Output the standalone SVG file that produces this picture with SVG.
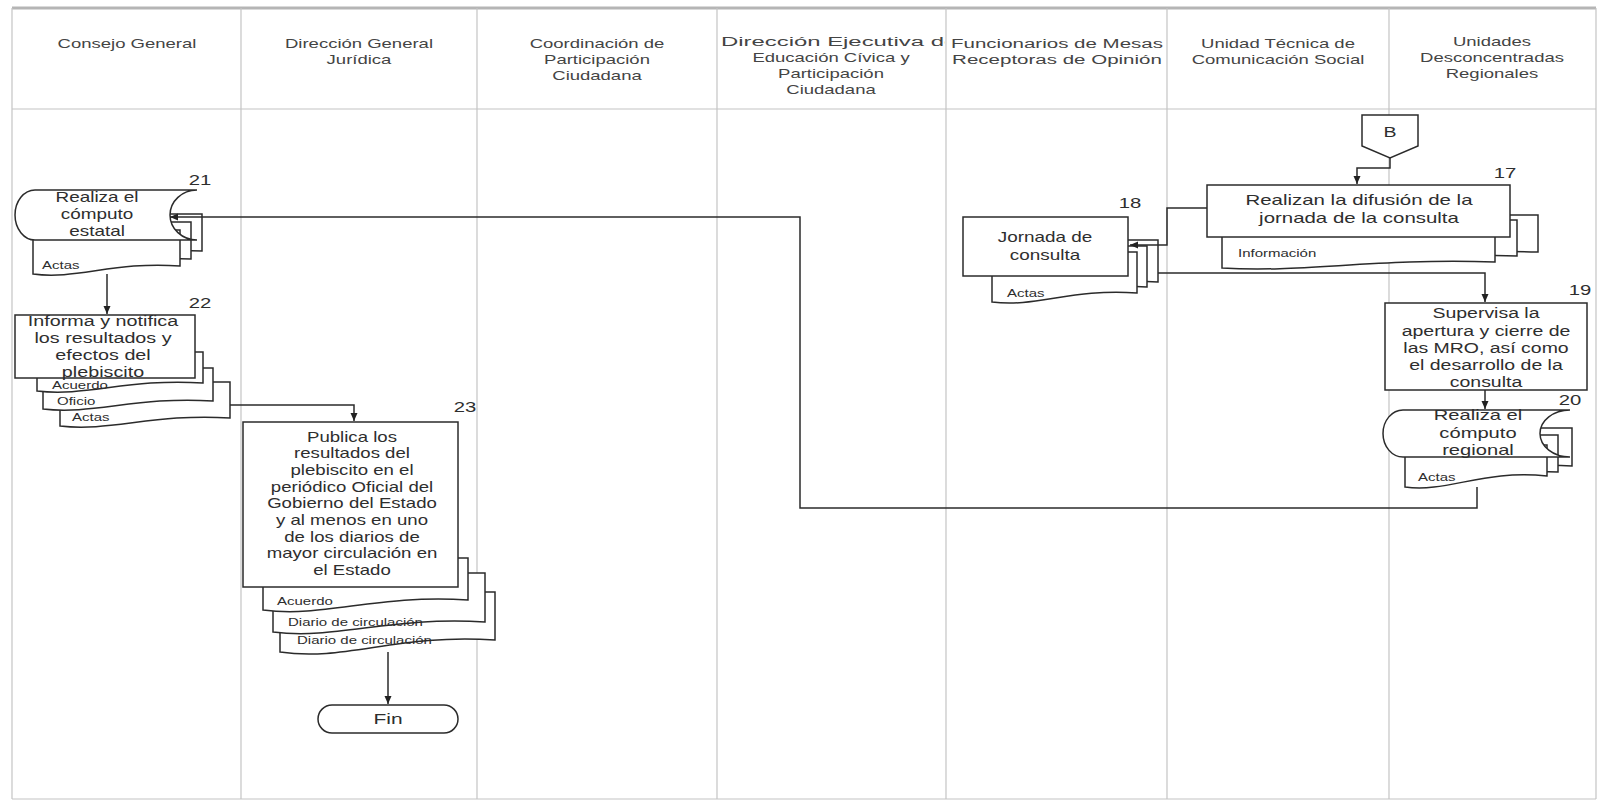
<svg xmlns="http://www.w3.org/2000/svg" width="1598" height="802" viewBox="0 0 1598 802">
<style>
text{font-family:"Liberation Sans",Arial,sans-serif;fill:#2e2e2e;text-anchor:middle}
.h{font-size:13.5px;fill:#444}
.t{font-size:14px}
.n{font-size:14px}
.s{font-size:10px;text-anchor:start}
.lane{stroke:#c4c4c4;stroke-width:1.2;fill:none}
.shp{fill:#fff;stroke:#2b2b2b;stroke-width:1.5}
.cn{fill:none;stroke:#2b2b2b;stroke-width:1.5}
</style>
<defs>
<marker id="ah" markerUnits="userSpaceOnUse" markerWidth="8" markerHeight="8" viewBox="0 0 8 8" refX="8" refY="4" orient="auto"><path d="M0,0.5 L8,4 L0,7.5 Z" fill="#222"/></marker>
<clipPath id="c4"><rect x="718" y="9" width="227" height="99"/></clipPath>
<clipPath id="c5"><rect x="947" y="9" width="219" height="99"/></clipPath>
</defs>
<rect width="1598" height="802" fill="#fff"/>
<g id="lanes">
<line x1="12" y1="8" x2="1596" y2="8" stroke="#b5b5b5" stroke-width="3"/>
<line class="lane" x1="12" y1="109" x2="1596" y2="109"/>
<line class="lane" x1="12" y1="799" x2="1596" y2="799"/>
<line class="lane" x1="12" y1="8" x2="12" y2="799"/>
<line class="lane" x1="241" y1="8" x2="241" y2="799"/>
<line class="lane" x1="477" y1="8" x2="477" y2="799"/>
<line class="lane" x1="717" y1="8" x2="717" y2="799"/>
<line class="lane" x1="946" y1="8" x2="946" y2="799"/>
<line class="lane" x1="1167" y1="8" x2="1167" y2="799"/>
<line class="lane" x1="1389" y1="8" x2="1389" y2="799"/>
<line class="lane" x1="1596" y1="8" x2="1596" y2="799"/>
<g transform="translate(127,0) scale(1.37,1)"><text class="h" x="0" y="48">Consejo General</text></g>
<g transform="translate(359,0) scale(1.37,1)"><text class="h" x="0" y="48">Dirección General</text><text class="h" x="0" y="64">Jurídica</text></g>
<g transform="translate(597,0) scale(1.37,1)"><text class="h" x="0" y="48">Coordinación de</text><text class="h" x="0" y="64">Participación</text><text class="h" x="0" y="80">Ciudadana</text></g>
<g clip-path="url(#c4)">
<g transform="translate(721,0) scale(1.77,1)"><text class="h" x="0" y="46" style="text-anchor:start">Dirección Ejecutiva de</text></g>
<g transform="translate(831,0) scale(1.37,1)"><text class="h" x="0" y="62">Educación Cívica y</text><text class="h" x="0" y="78">Participación</text><text class="h" x="0" y="94">Ciudadana</text></g>
</g>
<g clip-path="url(#c5)">
<g transform="translate(1057,0) scale(1.52,1)"><text class="h" x="0" y="48">Funcionarios de Mesas</text><text class="h" x="0" y="64">Receptoras de Opinión</text></g>
</g>
<g transform="translate(1278,0) scale(1.37,1)"><text class="h" x="0" y="48">Unidad Técnica de</text><text class="h" x="0" y="64">Comunicación Social</text></g>
<g transform="translate(1492,0) scale(1.37,1)"><text class="h" x="0" y="46">Unidades</text><text class="h" x="0" y="62">Desconcentradas</text><text class="h" x="0" y="78">Regionales</text></g>
</g>

<g id="nodeB">
<path class="shp" d="M1362,115 H1418 V146 L1390,158 L1362,146 Z"/>
<g transform="translate(1390,0) scale(1.4,1)"><text class="t" x="0" y="137">B</text></g>
</g>

<g id="node17">
<path class="shp" d="M1242,215 H1538 V252 C1405,248 1331,263 1242,258 Z"/>
<path class="shp" d="M1232,220 H1517 V256 C1389,252 1318,267 1232,262 Z"/>
<path class="shp" d="M1222,228 H1495 V262 C1372,258 1304,273 1222,268 Z"/>
<g transform="translate(1238,0) scale(1.5,1)"><text class="s" x="0" y="257">Información</text></g>
<rect class="shp" x="1207" y="185" width="303" height="52"/>
<g transform="translate(1359,0) scale(1.46,1)"><text class="t" x="0" y="205">Realizan la difusión de la</text><text class="t" x="0" y="223">jornada de la consulta</text></g>
<g transform="translate(1505,0) scale(1.45,1)"><text class="n" x="0" y="178">17</text></g>
</g>

<g id="node18">
<path class="shp" d="M1008,240 H1158 V282 C1091,278 1053,293 1008,288 Z"/>
<path class="shp" d="M1000,246 H1147 V287 C1081,283 1044,298 1000,293 Z"/>
<path class="shp" d="M992,252 H1137 V293 C1072,288 1036,308 992,302 Z"/>
<g transform="translate(1007,0) scale(1.5,1)"><text class="s" x="0" y="297">Actas</text></g>
<rect class="shp" x="963" y="217" width="165" height="59"/>
<g transform="translate(1045,0) scale(1.35,1)"><text class="t" x="0" y="242">Jornada de</text><text class="t" x="0" y="260">consulta</text></g>
<g transform="translate(1130,0) scale(1.45,1)"><text class="n" x="0" y="208">18</text></g>
</g>

<g id="node19">
<rect class="shp" x="1385" y="303" width="202" height="87"/>
<g transform="translate(1486,0) scale(1.39,1)"><text class="t" x="0" y="318">Supervisa la</text><text class="t" x="0" y="336">apertura y cierre de</text><text class="t" x="0" y="353">las MRO, así como</text><text class="t" x="0" y="370">el desarrollo de la</text><text class="t" x="0" y="387">consulta</text></g>
<g transform="translate(1580,0) scale(1.45,1)"><text class="n" x="0" y="295">19</text></g>
</g>

<g id="node20">
<path class="shp" d="M1427,428 H1572 V466 C1507,462 1471,477 1427,472 Z"/>
<path class="shp" d="M1416,435 H1558 V472 C1494,468 1459,485 1416,479 Z"/>
<path class="shp" d="M1405,445 H1547 V476 C1483,469 1448,493 1405,487 Z"/>
<g transform="translate(1418,0) scale(1.5,1)"><text class="s" x="0" y="481">Actas</text></g>
<path class="shp" d="M1403,410 H1570 A30,23.5 0 0 0 1570,457 H1403 A20,23.5 0 0 1 1403,410 Z"/>
<g transform="translate(1478,0) scale(1.44,1)"><text class="t" x="0" y="420">Realiza el</text><text class="t" x="0" y="438">cómputo</text><text class="t" x="0" y="455">regional</text></g>
<g transform="translate(1570,0) scale(1.45,1)"><text class="n" x="0" y="405">20</text></g>
</g>

<g id="node21">
<path class="shp" d="M53,214 H202 V251 C135,247 98,264 53,258 Z"/>
<path class="shp" d="M43,222 H191 V259 C124,255 87,272 43,266 Z"/>
<path class="shp" d="M33,230 H180 V266 C114,261 77,280 33,274 Z"/>
<g transform="translate(42,0) scale(1.5,1)"><text class="s" x="0" y="269">Actas</text></g>
<path class="shp" d="M35,190 H197 A27,25 0 0 0 197,240 H35 A20,25 0 0 1 35,190 Z"/>
<g transform="translate(97,0) scale(1.35,1)"><text class="t" x="0" y="202">Realiza el</text><text class="t" x="0" y="219">cómputo</text><text class="t" x="0" y="236">estatal</text></g>
<g transform="translate(200,0) scale(1.45,1)"><text class="n" x="0" y="185">21</text></g>
</g>

<g id="node22">
<path class="shp" d="M60,382 H230 V418 C154,413 111,432 60,426 Z"/>
<path class="shp" d="M43,368 H213 V401 C137,396 94,415 43,409 Z"/>
<path class="shp" d="M37,352 H203 V383 C128,378 87,397 37,391 Z"/>
<g transform="translate(52,0) scale(1.5,1)"><text class="s" x="0" y="389">Acuerdo</text></g>
<g transform="translate(57,0) scale(1.5,1)"><text class="s" x="0" y="405">Oficio</text></g>
<g transform="translate(72,0) scale(1.5,1)"><text class="s" x="0" y="421">Actas</text></g>
<rect class="shp" x="15" y="315" width="180" height="63"/>
<g transform="translate(103,0) scale(1.41,1)"><text class="t" x="0" y="326">Informa y notifica</text><text class="t" x="0" y="343">los resultados y</text><text class="t" x="0" y="360">efectos del</text><text class="t" x="0" y="377">plebiscito</text></g>
<g transform="translate(200,0) scale(1.45,1)"><text class="n" x="0" y="308">22</text></g>
</g>

<g id="node23">
<path class="shp" d="M280,592 H495 V640 C398,633 345,662 280,652 Z"/>
<path class="shp" d="M273,573 H485 V622 C390,616 337,640 273,632 Z"/>
<path class="shp" d="M263,558 H468 V600 C376,594 325,618 263,610 Z"/>
<g transform="translate(277,0) scale(1.5,1)"><text class="s" x="0" y="605">Acuerdo</text></g>
<g transform="translate(288,0) scale(1.5,1)"><text class="s" x="0" y="626">Diario de circulación</text></g>
<g transform="translate(297,0) scale(1.5,1)"><text class="s" x="0" y="644">Diario de circulación</text></g>
<rect class="shp" x="243" y="422" width="215" height="165"/>
<g transform="translate(352,0) scale(1.33,1)"><text class="t" x="0" y="442">Publica los</text><text class="t" x="0" y="458">resultados del</text><text class="t" x="0" y="475">plebiscito en el</text><text class="t" x="0" y="492">periódico Oficial del</text><text class="t" x="0" y="508">Gobierno del Estado</text><text class="t" x="0" y="525">y al menos  en uno</text><text class="t" x="0" y="542">de los diarios de</text><text class="t" x="0" y="558">mayor circulación en</text><text class="t" x="0" y="575">el Estado</text></g>
<g transform="translate(465,0) scale(1.45,1)"><text class="n" x="0" y="412">23</text></g>
</g>

<g id="nodeFin">
<rect class="shp" x="318" y="705" width="140" height="28" rx="14" ry="14"/>
<g transform="translate(388,0) scale(1.4,1)"><text class="t" x="0" y="724" style="font-size:15px">Fin</text></g>
</g>

<g id="connectors">
<path class="cn" d="M1390,158 V168 H1357 V184" marker-end="url(#ah)"/>
<path class="cn" d="M1207,208 H1167 V245 H1130" marker-end="url(#ah)"/>
<path class="cn" d="M1158,273 H1485 V302" marker-end="url(#ah)"/>
<path class="cn" d="M1485,390 V409" marker-end="url(#ah)"/>
<path class="cn" d="M1477,487 V508 H800 V217 H170" marker-end="url(#ah)"/>
<path class="cn" d="M107,274 V314" marker-end="url(#ah)"/>
<path class="cn" d="M230,405 H354 V421" marker-end="url(#ah)"/>
<path class="cn" d="M388,652 V704" marker-end="url(#ah)"/>
</g>
</svg>
